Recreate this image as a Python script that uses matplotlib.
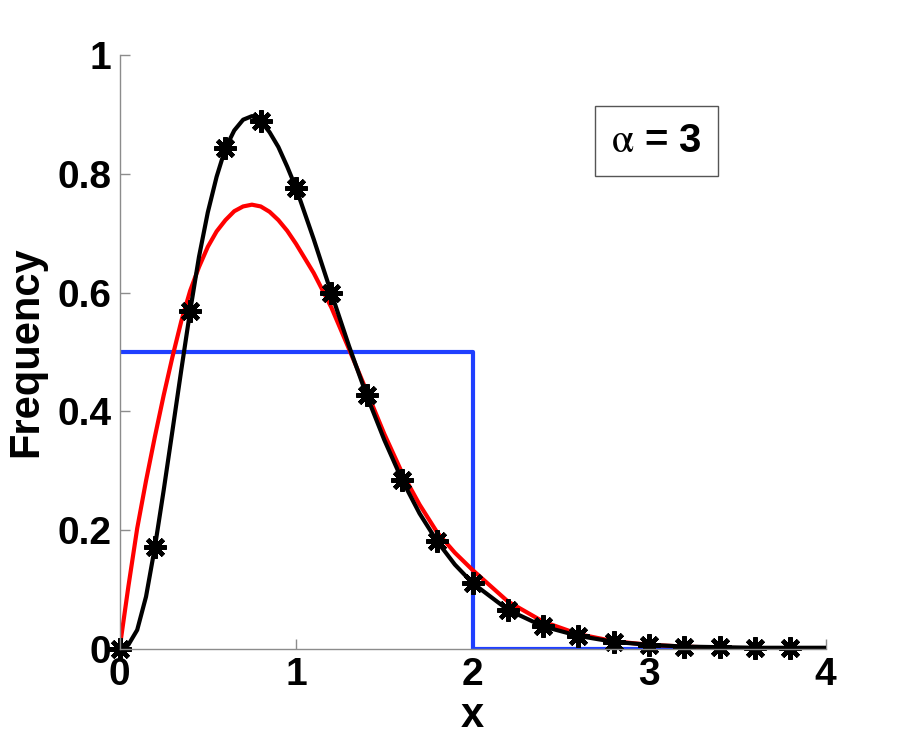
import matplotlib
matplotlib.use("Agg")
import matplotlib.pyplot as plt

# curve sample positions
x_curve = [0, 0.05, 0.1, 0.15, 0.2, 0.25, 0.3, 0.35, 0.4, 0.45, 0.5, 0.55, 0.6,
           0.65, 0.7, 0.75, 0.8, 0.85, 0.9, 0.95, 1.0, 1.1, 1.2, 1.3, 1.4, 1.5,
           1.6, 1.7, 1.8, 1.9, 2.0, 2.2, 2.4, 2.6, 2.8, 3.0, 3.2, 3.4, 3.6, 3.8, 4.0]

black_y = [0, 0.007, 0.032, 0.088, 0.171, 0.267, 0.368, 0.47, 0.569, 0.66, 0.735,
           0.795, 0.843, 0.873, 0.891, 0.897, 0.889, 0.87, 0.845, 0.812, 0.776,
           0.69, 0.599, 0.51, 0.427, 0.352, 0.285, 0.228, 0.181, 0.142, 0.111,
           0.066, 0.038, 0.022, 0.012, 0.007, 0.004, 0.003, 0.002, 0.002, 0.002]

red_y = [0, 0.105, 0.203, 0.283, 0.357, 0.427, 0.492, 0.552, 0.603, 0.643, 0.677,
         0.703, 0.722, 0.737, 0.745, 0.748, 0.745, 0.736, 0.722, 0.704, 0.682,
         0.633, 0.575, 0.505, 0.434, 0.362, 0.297, 0.243, 0.196, 0.162, 0.133,
         0.080, 0.046, 0.025, 0.013, 0.007, 0.004, 0.002, 0.001, 0.0005, 0.0002]

# asterisk markers
star_x = [0, 0.2, 0.4, 0.6, 0.8, 1.0, 1.2, 1.4, 1.6, 1.8, 2.0, 2.2, 2.4, 2.6,
          2.8, 3.0, 3.2, 3.4, 3.6, 3.8]
star_y = [0, 0.171, 0.569, 0.843, 0.889, 0.776, 0.599, 0.427, 0.285, 0.181,
          0.111, 0.066, 0.038, 0.022, 0.012, 0.007, 0.004, 0.003, 0.002, 0.002]

# uniform distribution
blue_x = [0, 2, 2, 4]
blue_y = [0.5, 0.5, 0, 0]

xticks = [0, 1, 2, 3, 4]
yticks = [0, 0.2, 0.4, 0.6, 0.8, 1]
ytick_labels = ['0', '0.2', '0.4', '0.6', '0.8', '1']

plt.rcParams['font.family'] = ['Liberation Sans', 'DejaVu Sans']
plt.rcParams['mathtext.fontset'] = 'stix'

fig = plt.figure(figsize=(9.07, 7.41), dpi=100)
ax = fig.add_axes([0.1318, 0.1242, 0.7784, 0.8016])

ax.plot(blue_x, blue_y, color='#1f3fff', lw=3)
ax.plot(x_curve, red_y, color='#ff0000', lw=3, solid_joinstyle='round')
ax.plot(x_curve, black_y, color='black', lw=3, solid_joinstyle='round')
ax.plot(star_x, star_y, ls='none', marker=(8, 2, 0), ms=16, mew=3.2,
        color='black', clip_on=False)

ax.set_xlim(0, 4)
ax.set_ylim(0, 1)
ax.set_xticks(xticks)
ax.set_xticklabels([str(t) for t in xticks])
ax.set_yticks(yticks)
ax.set_yticklabels(ytick_labels)

for s in ['top', 'right']:
    ax.spines[s].set_visible(False)
for s in ['left', 'bottom']:
    ax.spines[s].set_color('#8c8c8c')
    ax.spines[s].set_linewidth(1.0)

ax.tick_params(direction='in', length=7, width=1, color='#8c8c8c',
               labelsize=28, pad=6)
for lab in ax.get_xticklabels() + ax.get_yticklabels():
    lab.set_fontweight('bold')

ax.set_xlabel('x', fontsize=30, fontweight='bold', labelpad=2)
ax.set_ylabel('Frequency', fontsize=30, fontweight='bold', labelpad=8)

ax.text(3.04, 0.855, r'$\mathrm{\alpha}$ = 3', fontsize=29, fontweight='bold',
        ha='center', va='center',
        bbox=dict(boxstyle='square,pad=0.4', fc='white', ec='#555555', lw=1))

fig.savefig('out.png', dpi=100)
